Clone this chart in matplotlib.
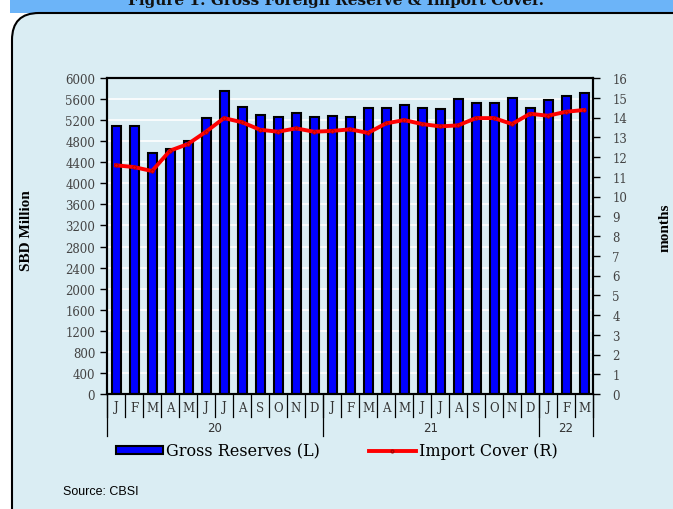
import matplotlib
matplotlib.use("Agg")
import matplotlib.pyplot as plt
import matplotlib.transforms as mtransforms
from matplotlib.patches import FancyBboxPatch, Rectangle
from matplotlib.lines import Line2D

months = ["J", "F", "M", "A", "M", "J", "J", "A", "S", "O", "N", "D",
          "J", "F", "M", "A", "M", "J", "J", "A", "S", "O", "N", "D",
          "J", "F", "M"]
years = ["20", "21", "22"]
year_counts = [12, 12, 3]
reserves = [5083, 5095, 4582, 4646, 4798, 5247, 5747, 5455, 5291, 5253, 5329, 5259,
            5278, 5259, 5430, 5437, 5487, 5424, 5411, 5595, 5525, 5532, 5620, 5430,
            5582, 5664, 5709]
import_cover = [11.58, 11.49, 11.29, 12.32, 12.66, 13.28, 13.97, 13.76, 13.38, 13.28, 13.45, 13.28,
                13.32, 13.40, 13.22, 13.70, 13.87, 13.67, 13.55, 13.60, 13.97, 13.97, 13.67, 14.19,
                14.09, 14.29, 14.38]
left_ticks = list(range(0, 6001, 400))
right_ticks = list(range(0, 17))

W, H = 673, 510
bg = "#daedf3"
fig = plt.figure(figsize=(W / 100, H / 100), dpi=100)
fig.patch.set_facecolor("white")

# title strip
fig.patches.append(Rectangle((10 / W, 1 - 14 / H), 1, 14 / H, transform=fig.transFigure,
                             facecolor="#6cb4f8", edgecolor="none", zorder=-2))
fig.text(0.5, 1 - 1 / H, "Figure 1: Gross Foreign Reserve & Import Cover.", ha="center", va="center",
         fontsize=11, fontweight="bold", family="DejaVu Serif", color="#111111")
# rounded box
fig.patches.append(FancyBboxPatch((12 / W, -0.2), 1.2, 1 - 13 / H + 0.2 - 1 / H,
                                  boxstyle="round,pad=0,rounding_size=0.04",
                                  transform=fig.transFigure, facecolor=bg, edgecolor="black",
                                  linewidth=1.5, zorder=-1, mutation_aspect=W / H))

ax = fig.add_axes([107 / W, 1 - 395 / H, (593 - 107) / W, (395 - 79) / H])
ax.set_zorder(2)
ax.set_facecolor(bg)
x = list(range(len(reserves)))
ax.bar(x, reserves, width=0.5, color="#0000ff", edgecolor="black", linewidth=1.5, zorder=3)
ax.set_xlim(-0.5, len(reserves) - 0.5)
ax.set_ylim(0, 6000)
ax.set_yticks(left_ticks)
ax.yaxis.grid(True, color="white", linewidth=1.2, zorder=0)
ax.set_axisbelow(True)
ax.set_xticks([])
ax.tick_params(axis="y", labelsize=8.5, labelcolor="#444444", length=5, width=1, direction="out")
for lab in ax.get_yticklabels():
    lab.set_family("DejaVu Serif")
for s in ax.spines.values():
    s.set_linewidth(1.5)
    s.set_zorder(5)
ax.set_ylabel("SBD Million", family="Liberation Serif", fontsize=11, fontweight="bold")
ax.yaxis.set_label_coords(-74 / 486, 0.52)

ax2 = ax.twinx()
ax2.set_zorder(3)
ax2.patch.set_visible(False)
ax2.plot(x, import_cover, color="#ff0000", linewidth=2.8, zorder=4,
         marker="o", markersize=2.5, markerfacecolor="#ff0000", markeredgecolor="#aa0000", markeredgewidth=0.6)
ax2.set_ylim(0, 16)
ax2.set_yticks(right_ticks)
ax2.tick_params(axis="y", labelsize=8.5, labelcolor="#444444", length=5, width=1, direction="out", pad=9)
for lab in ax2.get_yticklabels():
    lab.set_family("DejaVu Serif")
for s in ax2.spines.values():
    s.set_linewidth(1.5)
ax2.set_ylabel("months", family="Liberation Serif", fontsize=11, fontweight="bold", rotation=90)
ax2.yaxis.set_label_coords(1 + 66 / 486, 0.53)

# category axis labels
trans = mtransforms.blended_transform_factory(ax.transData, ax.transAxes)
px = 1 / (395 - 79)
for i, m in enumerate(months):
    ax.text(i, -13 * px, m, transform=trans, ha="center", va="center", fontsize=8.5,
            family="DejaVu Serif", color="#333333", clip_on=False)
for i in range(len(months) + 1):
    ax.add_line(Line2D([i - 0.5, i - 0.5], [0, -23 * px], transform=trans, color="black",
                       linewidth=0.9, clip_on=False))
start = 0
bounds = [-0.5]
for y, c in zip(years, year_counts):
    ax.text(start + c / 2 - 0.5, -34 * px, y, transform=trans, ha="center", va="center",
            fontsize=8.5, family="DejaVu Sans", color="#333333", clip_on=False)
    start += c
    bounds.append(start - 0.5)
for b in bounds:
    ax.add_line(Line2D([b, b], [0, -42 * px], transform=trans, color="black",
                       linewidth=0.9, clip_on=False))

# legend
handles = [Rectangle((0, 0), 1, 1, facecolor="#0000ff", edgecolor="black", linewidth=1.5),
           Line2D([0], [0], color="#ff0000", linewidth=2.8, marker="o", markersize=2,
                  markeredgecolor="#aa0000")]
fig.legend(handles, ["Gross Reserves (L)", "Import Cover (R)"], loc="center",
           bbox_to_anchor=(337 / W, 1 - 452 / H), ncol=2, frameon=False,
           prop={"family": "DejaVu Serif", "size": 11.5}, handlelength=2.9, handleheight=0.45,
           handletextpad=0.2, columnspacing=3.1)
fig.text(63 / W, 1 - 492 / H, "Source: CBSI", fontsize=9, family="Liberation Sans",
         ha="left", va="center", color="black")

fig.savefig("out.png", dpi=100, facecolor=fig.get_facecolor())
